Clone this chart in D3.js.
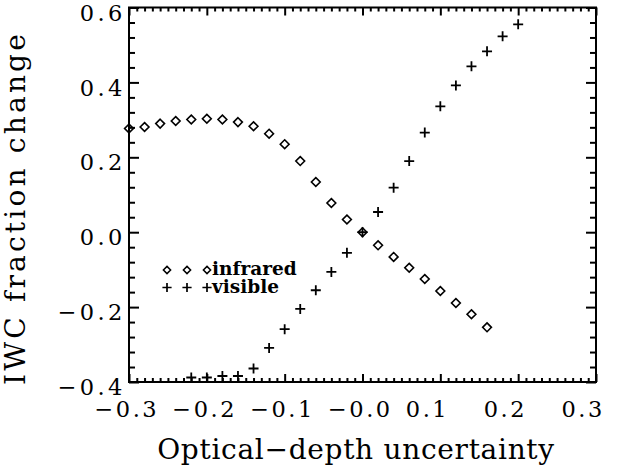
<!DOCTYPE html>
<html>
<head>
<meta charset="utf-8">
<script src="https://cdn.jsdelivr.net/npm/d3@7"></script>
<style>
  html, body { margin: 0; padding: 0; background: #fff; }
  svg { display: block; }
</style>
</head>
<body>
<svg id="chart" width="618" height="468"></svg>
<script>
// Optical-depth uncertainty (x) for each retrieval
const infraredX = [-0.30, -0.28, -0.26, -0.24, -0.22, -0.20, -0.18, -0.16, -0.14, -0.12,
                   -0.10, -0.08, -0.06, -0.04, -0.02, 0.00, 0.02, 0.04, 0.06, 0.08,
                   0.10, 0.12, 0.14, 0.16];
// IWC fraction change, infrared
const infraredY = [0.277, 0.281, 0.290, 0.297, 0.301, 0.303, 0.301, 0.294, 0.283, 0.263,
                   0.235, 0.190, 0.134, 0.078, 0.034, 0.000, -0.035, -0.066, -0.095, -0.125,
                   -0.157, -0.189, -0.219, -0.254];

const visibleX = [-0.22, -0.20, -0.18, -0.16, -0.14, -0.12, -0.10, -0.08, -0.06, -0.04,
                  -0.02, 0.00, 0.02, 0.04, 0.06, 0.08, 0.10, 0.12, 0.14, 0.16,
                  0.18, 0.20];
// IWC fraction change, visible
const visibleY = [-0.388, -0.388, -0.384, -0.384, -0.364, -0.309, -0.259, -0.205, -0.155, -0.106,
                  -0.055, 0.000, 0.054, 0.119, 0.190, 0.266, 0.336, 0.392, 0.443, 0.483,
                  0.523, 0.555];

const xTickValues = [-0.3, -0.2, -0.1, 0.0, 0.1, 0.2, 0.3];
const xTickLabels = ["\u22120.3", "\u22120.2", "\u22120.1", "\u22120.0", "0.1", "0.2", "0.3"];
const yTickValues = [-0.4, -0.2, 0.0, 0.2, 0.4, 0.6];
const yTickLabels = ["\u22120.4", "\u22120.2", "0.0", "0.2", "0.4", "0.6"];

const seriesNames = ["infrared", "visible"];
const xTitle = "Optical\u2212depth uncertainty";
const yTitle = "IWC fraction change";

const svg = d3.select("#chart");
const plotLeft = 129, plotRight = 596, plotTop = 7.5, plotBottom = 382;

const x = d3.scaleLinear().domain([-0.3, 0.3]).range([plotLeft, plotRight]);
const y = d3.scaleLinear().domain([-0.4, 0.6]).range([plotBottom, plotTop]);

const serifFont = "'DejaVu Serif', 'Liberation Serif', serif";

// minor tick positions
const xMinor = d3.range(-30, 31).map(d => d / 100).filter(v => !xTickValues.some(t => Math.abs(t - v) < 1e-9));
const yMinor = d3.range(-10, 16).map(d => d * 0.04).filter(v => !yTickValues.some(t => Math.abs(t - v) < 1e-9));

function styleTicks(g) {
  g.select(".domain").remove();
  g.selectAll(".tick line").attr("stroke", "#000").attr("stroke-width", 2);
}

// inward ticks on all four sides
svg.append("g").attr("transform", `translate(0,${plotBottom})`)
  .call(d3.axisBottom(x).tickValues(xMinor).tickSizeInner(-4).tickSizeOuter(0).tickFormat(""))
  .call(styleTicks);
svg.append("g").attr("transform", `translate(0,${plotTop})`)
  .call(d3.axisTop(x).tickValues(xMinor).tickSizeInner(-4).tickSizeOuter(0).tickFormat(""))
  .call(styleTicks);
svg.append("g").attr("transform", `translate(0,${plotTop})`)
  .call(d3.axisTop(x).tickValues(xTickValues).tickSizeInner(-8).tickSizeOuter(0).tickFormat(""))
  .call(styleTicks);
svg.append("g").attr("transform", `translate(${plotLeft},0)`)
  .call(d3.axisLeft(y).tickValues(yMinor).tickSizeInner(-6).tickSizeOuter(0).tickFormat(""))
  .call(styleTicks);
svg.append("g").attr("transform", `translate(${plotRight},0)`)
  .call(d3.axisRight(y).tickValues(yMinor).tickSizeInner(-6).tickSizeOuter(0).tickFormat(""))
  .call(styleTicks);
svg.append("g").attr("transform", `translate(${plotRight},0)`)
  .call(d3.axisRight(y).tickValues(yTickValues).tickSizeInner(-10).tickSizeOuter(0).tickFormat(""))
  .call(styleTicks);

// labelled bottom axis
const xAxisG = svg.append("g").attr("transform", `translate(0,${plotBottom})`)
  .call(d3.axisBottom(x).tickValues(xTickValues).tickSizeInner(-8).tickSizeOuter(0).tickPadding(19)
    .tickFormat((d, i) => xTickLabels[i]))
  .call(styleTicks);
xAxisG.selectAll(".tick text")
  .attr("text-anchor", "start").attr("dx", -35)
  .attr("font-family", serifFont).attr("font-size", 22.5).attr("letter-spacing", 2.5)
  .attr("fill", "#000");

// labelled left axis
const yAxisG = svg.append("g").attr("transform", `translate(${plotLeft},0)`)
  .call(d3.axisLeft(y).tickValues(yTickValues).tickSizeInner(-10).tickSizeOuter(0).tickPadding(3.5)
    .tickFormat((d, i) => yTickLabels[i]))
  .call(styleTicks);
yAxisG.selectAll(".tick text")
  .attr("dy", "0.56em")
  .attr("font-family", serifFont).attr("font-size", 22.5).attr("letter-spacing", 3.3)
  .attr("fill", "#000");

// plot frame
svg.append("rect")
  .attr("x", plotLeft).attr("y", plotTop)
  .attr("width", plotRight - plotLeft).attr("height", plotBottom - plotTop)
  .attr("fill", "none").attr("stroke", "#000").attr("stroke-width", 2);

// symbols
const diamond = s => `M0,${-s}L${s},0L0,${s}L${-s},0Z`;
const plus = s => `M${-s},0H${s}M0,${-s}V${s}`;

const infrared = infraredX.map((v, i) => ({ x: v, y: infraredY[i] }));
const visible = visibleX.map((v, i) => ({ x: v, y: visibleY[i] }));

svg.append("g").selectAll("path").data(infrared).join("path")
  .attr("transform", d => `translate(${x(d.x)},${y(d.y)})`)
  .attr("d", diamond(4.4))
  .attr("fill", "none").attr("stroke", "#000").attr("stroke-width", 1.6);

svg.append("g").selectAll("path").data(visible).join("path")
  .attr("transform", d => `translate(${x(d.x)},${y(d.y)})`)
  .attr("d", plus(5))
  .attr("fill", "none").attr("stroke", "#000").attr("stroke-width", 1.8);

// legend: three sample symbols per series, names in one text block
const legend = svg.append("g");
const legendRowY = [270, 287.5];
const legendSyms = [diamond(3.6), plus(4.6)];
const legendWidths = [1.5, 1.7];
legendRowY.forEach((ry, k) => {
  [167, 187, 207].forEach(sx => {
    legend.append("path").attr("transform", `translate(${sx},${ry})`)
      .attr("d", legendSyms[k]).attr("fill", "none").attr("stroke", "#000")
      .attr("stroke-width", legendWidths[k]);
  });
});
const legendText = legend.append("text")
  .attr("font-family", serifFont).attr("font-weight", "bold")
  .attr("font-size", 18.5).attr("fill", "#000");
seriesNames.forEach((name, k) => {
  legendText.append("tspan").attr("x", 212).attr("y", legendRowY[k] + 5).text(name);
});

// axis titles
svg.append("text").attr("x", 356).attr("y", 459).attr("text-anchor", "middle")
  .attr("font-family", serifFont).attr("font-size", 28).attr("letter-spacing", 0.7)
  .attr("fill", "#000").text(xTitle);
svg.append("text").attr("transform", "translate(25,208) rotate(-90)").attr("text-anchor", "middle")
  .attr("font-family", serifFont).attr("font-size", 28).attr("letter-spacing", 3.2)
  .attr("fill", "#000").text(yTitle);
</script>
</body>
</html>
